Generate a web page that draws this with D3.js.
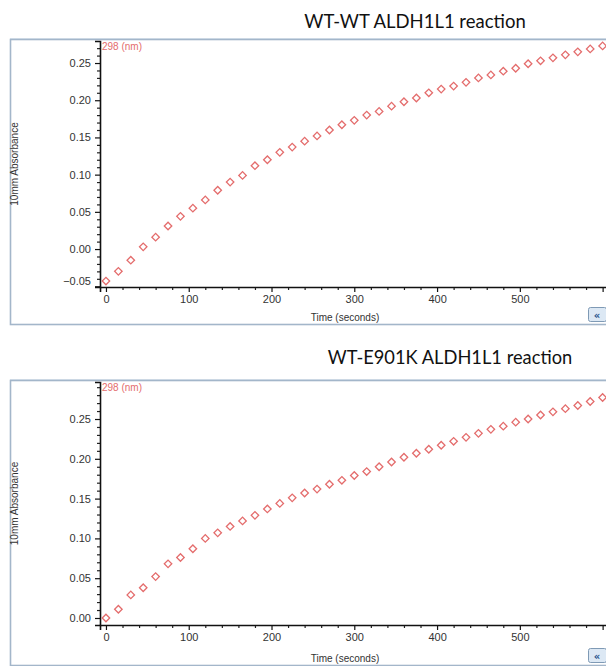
<!DOCTYPE html>
<html>
<head>
<meta charset="utf-8">
<script src="https://cdn.jsdelivr.net/npm/d3@7"></script>
<style>
html,body{margin:0;padding:0;background:#fff;overflow:hidden;}
svg{display:block;}
</style>
</head>
<body>
<svg id="chart" width="606" height="666"></svg>
<script>
const times = [0,15,30,45,60,75,90,105,120,135,150,165,180,195,210,225,240,255,270,285,300,315,330,345,360,375,390,405,420,435,450,465,480,495,510,525,540,555,570,585,600];
const wtwtValues = [-0.043,-0.030,-0.015,0.003,0.016,0.031,0.044,0.055,0.066,0.079,0.090,0.099,0.112,0.120,0.130,0.137,0.145,0.152,0.160,0.167,0.173,0.180,0.185,0.192,0.198,0.203,0.210,0.215,0.219,0.224,0.230,0.234,0.239,0.243,0.249,0.253,0.257,0.261,0.265,0.269,0.273];
const wte901kValues = [0.000,0.011,0.029,0.038,0.052,0.068,0.076,0.087,0.100,0.107,0.115,0.122,0.129,0.137,0.144,0.151,0.157,0.162,0.168,0.173,0.179,0.184,0.190,0.196,0.202,0.207,0.212,0.217,0.222,0.227,0.232,0.237,0.241,0.246,0.250,0.255,0.259,0.263,0.267,0.272,0.277];
const titles = ["WT-WT ALDH1L1 reaction", "WT-E901K ALDH1L1 reaction"];
const xTickValues = [0,100,200,300,400,500,600];
const xTickLabels = ["0","100","200","300","400","500",""];
const yTicksTop = [-0.05,0.00,0.05,0.10,0.15,0.20,0.25];
const yTicksBottom = [0.00,0.05,0.10,0.15,0.20,0.25];
const wavelengthLabel = "298 (nm)";
const xLabel = "Time (seconds)";
const yLabel = "10mm Absorbance";

const svg = d3.select("#chart");
const red = "#e46d6d";

const panels = [
  {title: titles[0], values: wtwtValues, yTicks: yTicksTop, top: 41, axisY: 287, yDomain: [-0.051, 0.2796], titleX: 415, titleY: 28, boxBottom: 325, fs: 18.5},
  {title: titles[1], values: wte901kValues, yTicks: yTicksBottom, top: 382, axisY: 625, yDomain: [-0.0088, 0.2965], titleX: 450, titleY: 364, boxBottom: 666, fs: 18.3}
];

panels.forEach(p => {
  const g = svg.append("g");
  g.append("text").attr("x", p.titleX).attr("y", p.titleY)
    .attr("text-anchor", "middle").attr("font-family", "Lato, 'Open Sans', sans-serif")
    .attr("font-size", p.fs).attr("fill", "#111").text(p.title);
  g.append("rect").attr("x", 10.5).attr("y", p.top - 1.5).attr("width", 640).attr("height", p.boxBottom - p.top + 1)
    .attr("fill", "#fff").attr("stroke", "#a3b6ca").attr("stroke-width", 1.6);
  g.append("line").attr("x1", 10).attr("x2", 606).attr("y1", p.top - 2.5).attr("y2", p.top - 2.5)
    .attr("stroke", "#ccd8e4").attr("stroke-width", 1);

  const x = d3.scaleLinear().domain([-7.2, 621]).range([100, 620]);
  const y = d3.scaleLinear().domain(p.yDomain).range([p.axisY, p.top]);

  const xMinor = d3.range(0, 621, 20).filter(v => v % 100 !== 0);
  const yMinor = d3.range(Math.ceil(p.yDomain[0] * 100), Math.floor(p.yDomain[1] * 100) + 1).map(v => v / 100).filter(v => Math.abs((v * 100) % 5) > 0.01);

  const xAxisMinor = d3.axisBottom(x).tickValues(xMinor).tickSize(3).tickFormat("");
  const yAxisMinor = d3.axisLeft(y).tickValues(yMinor).tickSize(3).tickFormat("");
  g.append("g").attr("transform", `translate(0,${p.axisY})`).call(xAxisMinor)
    .call(s => s.select(".domain").remove())
    .call(s => s.selectAll("line").attr("stroke", "#222").attr("stroke-width", 1.2));
  g.append("g").attr("transform", `translate(100,0)`).call(yAxisMinor)
    .call(s => s.select(".domain").remove())
    .call(s => s.selectAll("line").attr("stroke", "#222").attr("stroke-width", 1.2));

  const xAxis = d3.axisBottom(x).tickValues(xTickValues).tickSize(5).tickPadding(3).tickFormat((d, i) => xTickLabels[i]);
  const yAxis = d3.axisLeft(y).tickValues(p.yTicks).tickSize(5).tickPadding(4).tickFormat(d3.format(".2f"));

  const gx = g.append("g").attr("transform", `translate(0,${p.axisY})`).call(xAxis);
  gx.select(".domain").attr("stroke", "#111").attr("stroke-width", 1.6);
  gx.selectAll(".tick line").attr("stroke", "#111").attr("stroke-width", 1.2);
  gx.selectAll(".tick text").attr("font-family", "'Liberation Sans', Arial, sans-serif").attr("font-size", 11).attr("fill", "#333");

  const gy = g.append("g").attr("transform", `translate(100,0)`).call(yAxis);
  gy.select(".domain").attr("stroke", "#111").attr("stroke-width", 1.6);
  gy.selectAll(".tick line").attr("stroke", "#111").attr("stroke-width", 1.2);
  gy.selectAll(".tick text").attr("font-family", "'Liberation Sans', Arial, sans-serif").attr("font-size", 11).attr("fill", "#333")
    .attr("dy", d => d < -0.04 ? "-0.2em" : "0.32em");

  g.append("text").attr("transform", `translate(18,${(p.top + p.axisY) / 2}) rotate(-90)`)
    .attr("text-anchor", "middle").attr("font-family", "'Liberation Sans', Arial, sans-serif")
    .attr("font-size", 10).attr("fill", "#333").text(yLabel);
  g.append("text").attr("x", 345).attr("y", p.boxBottom - 4)
    .attr("text-anchor", "middle").attr("font-family", "'Liberation Sans', Arial, sans-serif")
    .attr("font-size", 10).attr("fill", "#333").text(xLabel);

  g.append("text").attr("x", 102).attr("y", p.top + 9)
    .attr("font-family", "'Liberation Sans', Arial, sans-serif").attr("font-size", 10)
    .attr("fill", red).text(wavelengthLabel);

  g.append("rect").attr("x", 588.5).attr("y", p.boxBottom - 17.5).attr("width", 18).attr("height", 14)
    .attr("rx", 2).attr("fill", "#dce8f4").attr("stroke", "#7f9ab5");
  g.append("text").attr("x", 597).attr("y", p.boxBottom - 6.5).attr("text-anchor", "middle")
    .attr("font-family", "'DejaVu Sans', sans-serif").attr("font-size", 10).attr("font-weight", "bold")
    .attr("fill", "#1f4f8a").text("\u00AB");

  const sym = d3.symbol().type(d3.symbolSquare).size(28);
  g.append("g").selectAll("path").data(times.map((t, i) => ({t, v: p.values[i]})))
    .join("path")
    .attr("d", sym)
    .attr("transform", d => `translate(${x(d.t)},${y(d.v)}) rotate(45)`)
    .attr("fill", "none").attr("stroke", red).attr("stroke-width", 1.3);
});
</script>
</body>
</html>
